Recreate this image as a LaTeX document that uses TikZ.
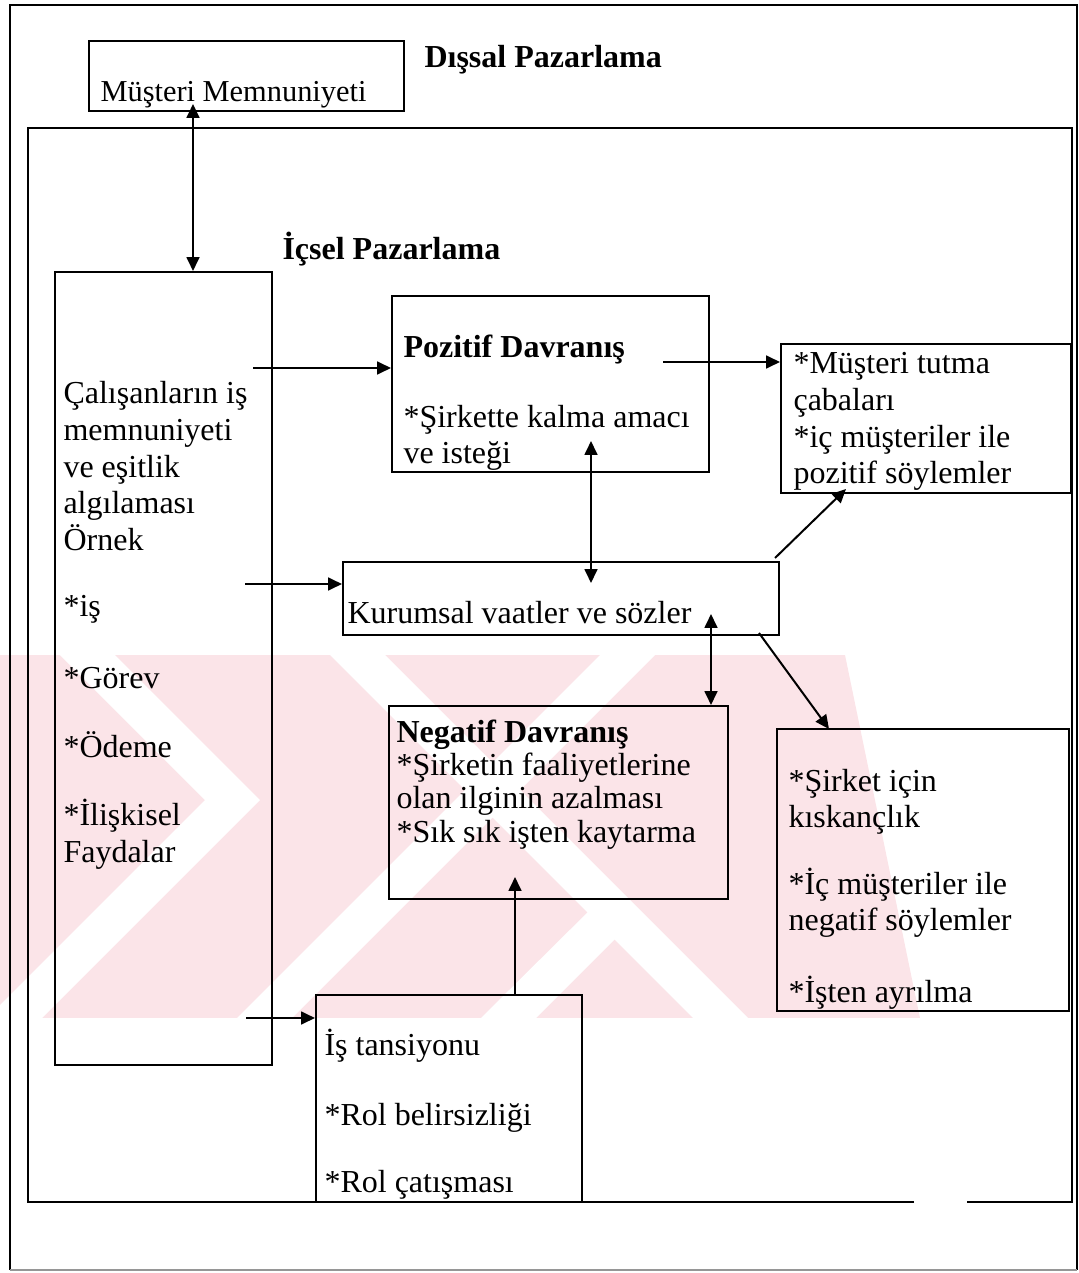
\documentclass[tikz,border=0pt]{standalone}
\usepackage{fontspec}
\setmainfont{Liberation Serif}
\usetikzlibrary{arrows.meta,fit}
\definecolor{wmpink}{RGB}{251,228,232}
\definecolor{rulegray}{RGB}{150,150,150}
\begin{document}
\begin{tikzpicture}[x=0.375pt,y=-0.375pt,
  box/.style={draw, line width=0.75pt, inner sep=0pt},
  lbl/.style={anchor=base west, inner sep=0pt, font=\fontsize{12}{14}\selectfont},
  bold/.style={lbl, font=\fontsize{12}{14}\selectfont\bfseries},
  arr/.style={line width=0.75pt, -{Triangle[length=5.2pt,width=4.8pt]}},
  dbl/.style={line width=0.75pt, {Triangle[length=5.2pt,width=4.8pt]}-{Triangle[length=5.2pt,width=4.8pt]}},
  frame/.style={line width=0.75pt}]
\useasboundingbox (0,0) rectangle (1079,1273);

% light background band with diagonal white stripes
\begin{scope}
  \clip (0,655) -- (845,655) -- (920,1018) -- (0,1018) -- cycle;
  \fill[wmpink] (0,655) rectangle (920,1018);
  \fill[white] (60,655) -- (115,655) -- (260,800) -- (42,1018) -- (-13,1018) -- (205,800) -- cycle;
  \fill[white] (330,655) -- (385,655) -- (748,1018) -- (693,1018) -- cycle;
  \fill[white] (600,655) -- (655,655) -- (292,1018) -- (237,1018) -- cycle;
  \fill[white] (481,1018) -- (536,1018) -- (630,924) -- (603,897) -- cycle;
\end{scope}

% outer and inner frames
\draw[frame] (10,1270) -- (10,5) -- (1077,5) -- (1077,1270);
\draw[frame, rulegray] (10,1270) -- (1077,1270);
\draw[frame] (914,1202) -- (28,1202) -- (28,128) -- (1072,128) -- (1072,1202) -- (967,1202);

% boxes
\node[box, fit={(89,41) (404,111)}] (mm) {};
\node[box, fit={(55,272) (272,1065)}] (cal) {};
\node[box, fit={(392,296) (709,472)}] (poz) {};
\node[box, fit={(781,344) (1071,493)}] (mt) {};
\node[box, fit={(343,562) (779,635)}] (kur) {};
\node[box, fit={(389,706) (728,899)}] (neg) {};
\node[box, fit={(777,729) (1069,1011)}] (sir) {};
\node[box, fit={(316,995) (582,1202)}] (is) {};

% headings
\node[bold] (dis) at (424,68) {Dışsal Pazarlama};
\node[bold] (ic) at (282,260) {İçsel Pazarlama};

% texts
\node[lbl, font=\fontsize{11.4}{14}\selectfont] (mmt) at (100,102) {Müşteri Memnuniyeti};

\node[lbl] (cal1) at (63,403) {Çalışanların iş};
\node[lbl] (cal2) at (63,440) {memnuniyeti};
\node[lbl] (cal3) at (63,477) {ve eşitlik};
\node[lbl] (cal4) at (63,513) {algılaması};
\node[lbl] (cal5) at (63,550) {Örnek};
\node[lbl] (cal6) at (63,616) {*iş};
\node[lbl] (cal7) at (63,688) {*Görev};
\node[lbl] (cal8) at (63,757) {*Ödeme};
\node[lbl] (cal9) at (63,825) {*İlişkisel};
\node[lbl] (cal10) at (63,862) {Faydalar};

\node[bold] (poz1) at (403,358) {Pozitif Davranış};
\node[lbl] (poz2) at (403,427) {*Şirkette kalma amacı};
\node[lbl] (poz3) at (403,463) {ve isteği};

\node[lbl] (mt1t) at (793,373) {*Müşteri tutma};
\node[lbl] (mt2t) at (793,410) {çabaları};
\node[lbl] (mt3t) at (793,447) {*iç müşteriler ile};
\node[lbl] (mt4t) at (793,483) {pozitif söylemler};

\node[lbl] (kurt) at (347,623) {Kurumsal vaatler ve sözler};

\node[bold] (neg1) at (396,742) {Negatif Davranış};
\node[lbl] (neg2) at (396,775) {*Şirketin faaliyetlerine};
\node[lbl] (neg3) at (396,808) {olan ilginin azalması};
\node[lbl] (neg4) at (396,842) {*Sık sık işten kaytarma};

\node[lbl] (sir1) at (788,791) {*Şirket için};
\node[lbl] (sir2) at (788,827) {kıskançlık};
\node[lbl] (sir3) at (788,894) {*İç müşteriler ile};
\node[lbl] (sir4) at (788,930) {negatif söylemler};
\node[lbl] (sir5) at (788,1002) {*İşten ayrılma};

\node[lbl] (is1) at (324,1055) {İş tansiyonu};
\node[lbl] (is2) at (324,1125) {*Rol belirsizliği};
\node[lbl] (is3) at (324,1192) {*Rol çatışması};

% connectors
\coordinate (mmtip) at (193,104);
\draw[dbl] (mmtip) -- (mmtip |- cal.north);

\coordinate (c1) at (253,368);
\draw[arr] (c1) -- (c1 -| poz.west);
\coordinate (c2) at (245,584);
\draw[arr] (c2) -- (c2 -| kur.west);
\coordinate (c3) at (246,1018);
\draw[arr] (c3) -- (c3 -| is.west);

\coordinate (p1) at (663,362);
\draw[arr] (p1) -- (p1 -| mt.west);
\coordinate (p2) at (591,441);
\coordinate (k1) at (591,583);
\draw[dbl] (p2) -- (k1);

\coordinate (k0) at (775,558);
\coordinate (mtin) at (846,489);
\draw[arr] (k0) -- (mtin);

\coordinate (k2) at (711,614);
\draw[dbl] (k2) -- (k2 |- neg.north);

\coordinate (k3) at (759,633);
\coordinate (sirin) at (829,729);
\draw[arr] (k3) -- (sirin);

\coordinate (n1) at (515,877);
\draw[arr] (n1 |- is.north) -- (n1);
\end{tikzpicture}
\end{document}
